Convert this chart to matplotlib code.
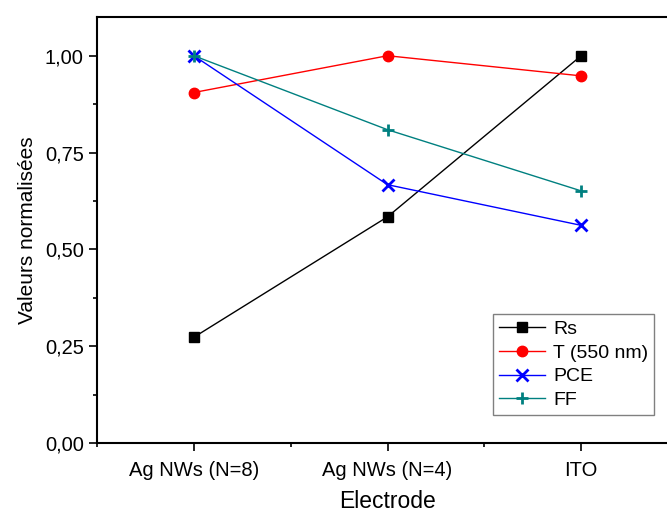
import matplotlib.pyplot as plt
from matplotlib.ticker import MultipleLocator, FuncFormatter

plt.rcParams['font.family'] = ['Liberation Sans', 'DejaVu Sans']

electrodes = ['Ag NWs (N=8)', 'Ag NWs (N=4)', 'ITO']
rs = [0.273, 0.584, 1.0]
t550 = [0.905, 1.0, 0.948]
pce = [1.0, 0.667, 0.562]
ff = [1.0, 0.809, 0.651]

x = [1, 2, 3]

fig = plt.figure(figsize=(6.67, 5.13), dpi=100)
ax = fig.add_axes([97 / 667, 1 - 443 / 513, 581 / 667, 426 / 513])

ax.plot(x, rs, color='black', lw=1, marker='s', ms=6.5, label='Rs')
ax.plot(x, t550, color='red', lw=1, marker='o', ms=7.5, label='T (550 nm)')
ax.plot(x, pce, color='blue', lw=1, marker='x', ms=9, mew=2, label='PCE')
ax.plot(x, ff, color='#008080', lw=1, marker='+', ms=9, mew=2, label='FF')

ax.set_xlim(0.5, 3.5)
ax.set_ylim(0, 1.1)
ax.set_xticks(x)
ax.set_xticklabels(electrodes)
ax.xaxis.set_minor_locator(MultipleLocator(0.5))
ax.yaxis.set_major_locator(MultipleLocator(0.25))
ax.yaxis.set_minor_locator(MultipleLocator(0.125))
ax.yaxis.set_major_formatter(FuncFormatter(lambda v, p: f'{v:.2f}'.replace('.', ',')))
ax.tick_params(which='major', direction='out', length=6, width=1.2, labelsize=14.5)
ax.tick_params(which='minor', direction='out', length=3, width=1.2)
ax.tick_params(axis='x', pad=7)
for s in ax.spines.values():
    s.set_linewidth(1.5)

ax.set_xlabel('Electrode', fontsize=16.5, labelpad=7)
ax.set_ylabel('Valeurs normalisées', fontsize=15, labelpad=6)

leg = ax.legend(loc='lower left', bbox_to_anchor=(493 / 667, 1 - 415 / 513),
                bbox_transform=fig.transFigure, fontsize=14, fancybox=False,
                framealpha=1, edgecolor='gray', handlelength=2.4,
                borderpad=0.3, labelspacing=0.32, handletextpad=0.4,
                borderaxespad=0)
leg.get_frame().set_linewidth(1)

fig.savefig('out.png', dpi=100)
